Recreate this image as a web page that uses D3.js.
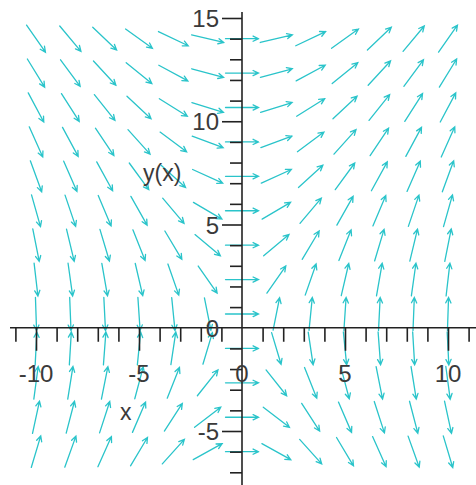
<!DOCTYPE html>
<html>
<head>
<meta charset="utf-8">
<script src="https://cdn.jsdelivr.net/npm/d3@7"></script>
<style>
  html, body { margin: 0; padding: 0; background: #fff; }
  svg { display: block; }
  text { font-family: "Liberation Sans", Arial, sans-serif; fill: #3a3a3a; }
</style>
</head>
<body>
<svg id="chart" width="476" height="485"></svg>
<script>
// Direction field of y' = 2x / y on a 13 x 13 grid of sample points
const gridX = [-10, -8.333, -6.667, -5, -3.333, -1.667, 0, 1.667, 3.333, 5, 6.667, 8.333, 10];
const gridY = [-6, -4.333, -2.667, -1, 0.667, 2.333, 4, 5.667, 7.333, 9, 10.667, 12.333, 14];
const slope = (x, y) => 2 * x / y;

const xTickMinor = d3.range(-11, 12).filter(v => v % 5 !== 0);
const xTickMajor = [-10, -5, 5, 10];
const xTickLabels = [-10, -5, 0, 5, 10];
const yTickMinor = d3.range(-7, 16).filter(v => v % 5 !== 0);
const yTickMajor = [-5, 5, 10, 15];
const yTickLabels = [-5, 0, 5, 10, 15];
const xName = "x";
const yName = "y(x)";

const svg = d3.select("#chart");
const x = d3.scaleLinear().domain([-10, 10]).range([36, 448]);
const y = d3.scaleLinear().domain([-5, 15]).range([431, 18]);

const axisColor = "#222";
const arrowColor = "#2ac4ca";

// arrows
const L = 33, head = 6, headAng = Math.PI / 7;
const pts = [];
gridX.forEach(gx => gridY.forEach(gy => pts.push({ gx, gy })));
const arrows = svg.append("g")
  .attr("stroke", arrowColor)
  .attr("stroke-width", 1.3)
  .attr("fill", "none")
  .attr("stroke-linecap", "round");
pts.forEach(p => {
  const cx = x(p.gx), cy = y(p.gy);
  const m = slope(p.gx, p.gy);
  // direction (1, m) converted to pixel space
  let dx = x(p.gx + 1) - cx, dy = y(p.gy + m) - cy;
  const n = Math.hypot(dx, dy);
  dx /= n; dy /= n;
  const x0 = cx - dx * L / 2, y0 = cy - dy * L / 2;
  const x1 = cx + dx * L / 2, y1 = cy + dy * L / 2;
  const a = Math.atan2(dy, dx);
  const b1 = [x1 - head * Math.cos(a - headAng), y1 - head * Math.sin(a - headAng)];
  const b2 = [x1 - head * Math.cos(a + headAng), y1 - head * Math.sin(a + headAng)];
  arrows.append("path")
    .attr("d", `M${x0},${y0}L${x1},${y1}M${b1[0]},${b1[1]}L${x1},${y1}L${b2[0]},${b2[1]}`);
});

// axes through the origin
const gx0 = y(0), gy0 = x(0);
svg.append("line").attr("x1", 10).attr("x2", 476).attr("y1", gx0).attr("y2", gx0)
  .attr("stroke", axisColor).attr("stroke-width", 1.6);
svg.append("line").attr("x1", gy0).attr("x2", gy0).attr("y1", 12).attr("y2", 485)
  .attr("stroke", axisColor).attr("stroke-width", 1.6);

function styleTicks(g) {
  g.select(".domain").remove();
  g.selectAll(".tick line").attr("stroke", axisColor).attr("stroke-width", 1.6);
  g.selectAll(".tick text").remove();
}
svg.append("g").attr("transform", `translate(0,${gx0})`)
  .call(d3.axisBottom(x).tickValues(xTickMinor).tickSize(14).tickFormat("")).call(styleTicks);
svg.append("g").attr("transform", `translate(0,${gx0})`)
  .call(d3.axisBottom(x).tickValues(xTickMajor).tickSize(23).tickFormat("")).call(styleTicks);
svg.append("g").attr("transform", `translate(${gy0},0)`)
  .call(d3.axisLeft(y).tickValues(yTickMinor).tickSize(12).tickFormat("")).call(styleTicks);
svg.append("g").attr("transform", `translate(${gy0},0)`)
  .call(d3.axisLeft(y).tickValues(yTickMajor).tickSize(20).tickFormat("")).call(styleTicks);

// tick labels
svg.append("g").selectAll("text").data(xTickLabels).join("text")
  .attr("x", d => x(d)).attr("y", 382)
  .attr("text-anchor", "middle").attr("font-size", 24)
  .text(d => d);
svg.append("g").selectAll("text").data(yTickLabels).join("text")
  .attr("x", 219).attr("y", d => y(d) + 9)
  .attr("text-anchor", "end").attr("font-size", 24)
  .text(d => d);

// axis names
svg.append("text").attr("x", 143).attr("y", 181).attr("font-size", 23).text(yName);
svg.append("text").attr("x", 120).attr("y", 420).attr("font-size", 23).text(xName);
</script>
</body>
</html>
